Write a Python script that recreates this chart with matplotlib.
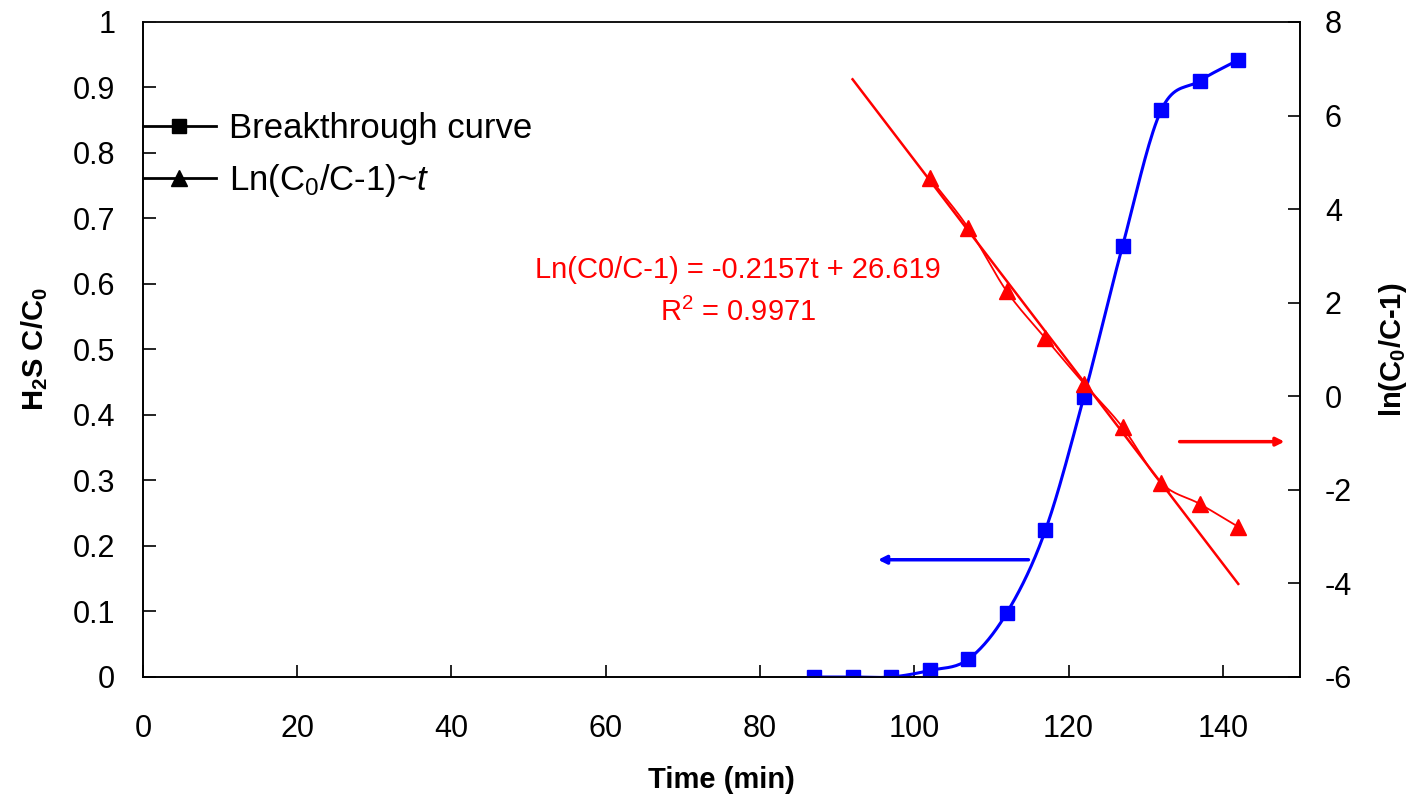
import numpy as np
import matplotlib.pyplot as plt
from matplotlib.lines import Line2D

plt.rcParams['font.family'] = ['Liberation Sans', 'DejaVu Sans']
plt.rcParams['mathtext.fontset'] = 'custom'
plt.rcParams['mathtext.rm'] = 'Liberation Sans'
plt.rcParams['mathtext.it'] = 'Liberation Sans:italic'
plt.rcParams['mathtext.bf'] = 'Liberation Sans:bold'
plt.rcParams['axes.unicode_minus'] = False

# data
time = [87, 92, 97, 102, 107, 112, 117, 122, 127, 132, 137, 142]
c_ratio = [0.0, 0.0, 0.0, 0.010, 0.027, 0.098, 0.224, 0.428, 0.658, 0.865, 0.910, 0.942]
ln_time = [102, 107, 112, 117, 122, 127, 132, 137, 142]
ln_vals = [4.67, 3.60, 2.24, 1.24, 0.27, -0.66, -1.85, -2.30, -2.79]
fit_slope = -0.2157
fit_icpt = 26.619
fit_range = [92, 142]


def smooth(x, y, n=20):
    # catmull-rom curve through the points (like excel "smoothed line")
    x = np.asarray(x, float)
    y = np.asarray(y, float)
    px = np.concatenate([[2 * x[0] - x[1]], x, [2 * x[-1] - x[-2]]])
    py = np.concatenate([[2 * y[0] - y[1]], y, [2 * y[-1] - y[-2]]])
    xs, ys = [], []
    t = np.linspace(0, 1, n)
    for i in range(1, len(px) - 2):
        for p, out in ((px, xs), (py, ys)):
            p0, p1, p2, p3 = p[i - 1], p[i], p[i + 1], p[i + 2]
            out.extend(0.5 * (2 * p1 + (-p0 + p2) * t
                              + (2 * p0 - 5 * p1 + 4 * p2 - p3) * t ** 2
                              + (-p0 + 3 * p1 - 3 * p2 + p3) * t ** 3))
    return xs, ys


fig = plt.figure(figsize=(14.11, 7.96), dpi=100)
ax = fig.add_axes([0.1013, 0.1495, 0.82, 0.8229])
ax2 = ax.twinx()

sx, sy = smooth(time, c_ratio)
ax.plot(sx, sy, color='#0000ff', lw=2.2, zorder=3)
ax.plot(time, c_ratio, 's', color='#0000ff', ms=10, zorder=4)

lx, ly = smooth(ln_time, ln_vals)
ax2.plot(lx, ly, color='#ff0000', lw=1.3)
ax2.plot(ln_time, ln_vals, '^', color='#ff0000', ms=12)
fx = np.array(fit_range)
ax2.plot(fx, fit_slope * fx + fit_icpt, color='#ff0000', lw=1.8)

ax.set_xlim(0, 150)
ax.set_ylim(0, 1)
ax2.set_ylim(-6, 8)
ax.set_xticks(np.arange(0, 141, 20))
ax.set_yticks(np.arange(0, 1.01, 0.1))
ax.set_yticklabels(['0'] + ['%.1f' % v for v in np.arange(0.1, 0.95, 0.1)] + ['1'])
ax2.set_yticks(np.arange(-6, 9, 2))

for a in (ax, ax2):
    a.tick_params(direction='in', length=9, width=1.2, labelsize=22)
    for s in a.spines.values():
        s.set_linewidth(1.2)
ax.tick_params(axis='x', pad=27)
ax.tick_params(axis='y', pad=20)
ax2.tick_params(axis='y', pad=18)
ax.spines['top'].set_color('#808080')

ax.set_xlabel('Time (min)', fontsize=21, fontweight='bold')
ax.set_ylabel(r'H$_\mathbf{2}$S C/C$_\mathbf{0}$', fontsize=21, fontweight='bold')
ax2.set_ylabel(r'ln(C$_\mathbf{0}$/C-1)', fontsize=21, fontweight='bold')
ax.xaxis.set_label_coords(0.5, -0.136)
ax.yaxis.set_label_coords(-0.080, 0.5)
ax2.yaxis.set_label_coords(1.067, 0.5)

ax.text(77.1, 0.621, 'Ln(C0/C-1) = -0.2157t + 26.619', color='#ff0000',
        fontsize=21, ha='center', va='center')
ax.text(77.1, 0.556, r'R$^2$ = 0.9971', color='#ff0000',
        fontsize=21, ha='center', va='center')

ax.annotate('', xy=(95.3, 0.179), xytext=(114.8, 0.179),
            arrowprops=dict(arrowstyle='-|>', color='#0000ff', lw=2.5,
                            mutation_scale=12, shrinkA=0, shrinkB=0))
ax2.annotate('', xy=(148.0, -0.97), xytext=(134.4, -0.97),
             arrowprops=dict(arrowstyle='-|>', color='#ff0000', lw=2.5,
                             mutation_scale=12, shrinkA=0, shrinkB=0))

handles = [Line2D([], [], color='black', lw=2, marker='s', ms=10),
           Line2D([], [], color='black', lw=2, marker='^', ms=11)]
ax.legend(handles, ['Breakthrough curve', r'Ln(C$_0$/C-1)~$t$'],
          loc='upper left', bbox_to_anchor=(0.0, 0.863), borderaxespad=0,
          borderpad=0, frameon=False, fontsize=25, handlelength=2.1,
          handletextpad=0.38, labelspacing=0.5)

fig.savefig('out.png', dpi=100)
